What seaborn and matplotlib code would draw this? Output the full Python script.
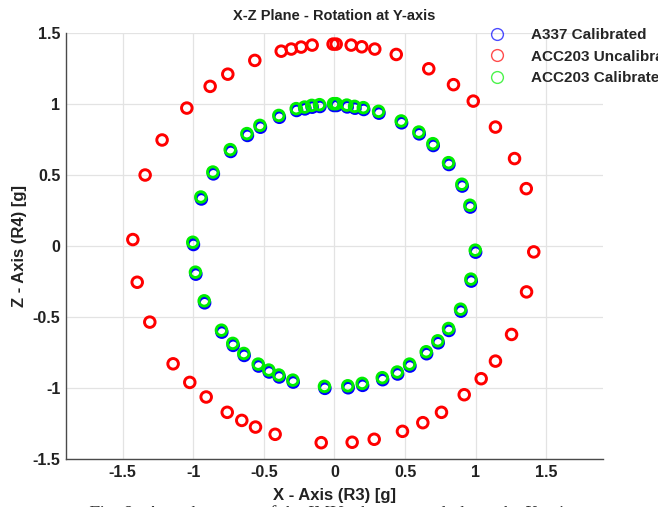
import matplotlib
matplotlib.use("Agg")
import matplotlib.pyplot as plt
from matplotlib.lines import Line2D
import seaborn as sns
import pandas as pd

# A337 reference sensor, calibrated output [g]
a337_x = [-0.998, -0.942, -0.857, -0.734, -0.616, -0.524, -0.390, -0.268, -0.209, -0.158, -0.103,
          -0.004, 0.015, 0.090, 0.145, 0.207, 0.315, 0.475, 0.600, 0.699, 0.810, 0.904, 0.961,
          0.999, 0.968, 0.895, 0.810, 0.734, 0.652, 0.534, 0.447, 0.341, 0.199, 0.097,
          -0.068, -0.292, -0.391, -0.462, -0.537, -0.639, -0.717, -0.797, -0.919, -0.981]
a337_z = [0.012, 0.333, 0.510, 0.668, 0.781, 0.839, 0.909, 0.957, 0.968, 0.980, 0.985,
          0.992, 0.992, 0.982, 0.973, 0.964, 0.938, 0.870, 0.792, 0.710, 0.576, 0.424, 0.276,
          -0.042, -0.246, -0.458, -0.594, -0.681, -0.758, -0.845, -0.901, -0.941, -0.981, -0.998,
          -1.002, -0.958, -0.922, -0.887, -0.845, -0.770, -0.699, -0.606, -0.399, -0.197]

# ACC203, raw (uncalibrated) output [g]
acc_raw_x = [-1.427, -1.340, -1.220, -1.045, -0.880, -0.755, -0.564, -0.377, -0.306, -0.236, -0.158,
             -0.010, 0.012, 0.118, 0.193, 0.285, 0.437, 0.667, 0.842, 0.982, 1.139, 1.274, 1.357,
             1.410, 1.359, 1.253, 1.139, 1.038, 0.918, 0.757, 0.625, 0.481, 0.281, 0.125,
             -0.094, -0.420, -0.559, -0.656, -0.759, -0.908, -1.024, -1.142, -1.307, -1.396]
acc_raw_z = [0.047, 0.502, 0.749, 0.974, 1.127, 1.213, 1.310, 1.375, 1.390, 1.404, 1.418,
             1.425, 1.425, 1.418, 1.406, 1.390, 1.352, 1.251, 1.139, 1.023, 0.840, 0.618, 0.406,
             -0.040, -0.322, -0.622, -0.810, -0.934, -1.047, -1.171, -1.244, -1.305, -1.361, -1.382,
             -1.385, -1.326, -1.275, -1.228, -1.171, -1.063, -0.960, -0.829, -0.535, -0.254]

# ACC203, calibrated output [g]
acc_cal_x = [-1.003, -0.946, -0.861, -0.738, -0.620, -0.528, -0.394, -0.271, -0.212, -0.161, -0.106,
             -0.007, 0.012, 0.087, 0.142, 0.204, 0.312, 0.472, 0.597, 0.696, 0.807, 0.901, 0.958,
             0.996, 0.965, 0.892, 0.807, 0.731, 0.649, 0.531, 0.444, 0.338, 0.196, 0.094,
             -0.071, -0.295, -0.394, -0.465, -0.540, -0.642, -0.720, -0.800, -0.922, -0.984]
acc_cal_z = [0.028, 0.347, 0.523, 0.681, 0.794, 0.852, 0.922, 0.970, 0.981, 0.993, 0.998,
             1.005, 1.005, 0.995, 0.986, 0.977, 0.951, 0.883, 0.805, 0.723, 0.589, 0.437, 0.289,
             -0.028, -0.232, -0.444, -0.580, -0.667, -0.744, -0.831, -0.887, -0.927, -0.967, -0.984,
             -0.988, -0.944, -0.908, -0.873, -0.831, -0.756, -0.685, -0.592, -0.385, -0.183]

series_names = ["A337 Calibrated", "ACC203 Uncalibrated", "ACC203 Calibrated"]
series_colors = ["#0000ff", "#ff0000", "#00ee00"]
ticks = [-1.5, -1, -0.5, 0, 0.5, 1, 1.5]
tick_labels = ["-1.5", "-1", "-0.5", "0", "0.5", "1", "1.5"]

sns.set_style("white")
plt.rcParams["font.family"] = ["Liberation Sans", "DejaVu Sans"]
plt.rcParams["font.weight"] = "bold"

fig = plt.figure(figsize=(6.58, 5.07), dpi=100)
ax = fig.add_axes([0.1003, 0.0947, 0.8161, 0.8393])

frames = [
    pd.DataFrame({"x": a337_x, "z": a337_z}),
    pd.DataFrame({"x": acc_raw_x, "z": acc_raw_z}),
    pd.DataFrame({"x": acc_cal_x, "z": acc_cal_z}),
]
for df, col in zip(frames, series_colors):
    sns.scatterplot(data=df, x="x", y="z", ax=ax, marker="o", s=58,
                    facecolors="none", edgecolor=col, linewidth=2.1, legend=False,
                    zorder=3, clip_on=False)

ax.set_xlim(-1.9, 1.9)
ax.set_ylim(-1.5, 1.5)
ax.set_xticks(ticks)
ax.set_xticklabels(tick_labels)
ax.set_yticks(ticks)
ax.set_yticklabels(tick_labels)
ax.grid(True, color="#e3e3e3", linewidth=0.9)
ax.set_axisbelow(True)
for side in ["top", "right"]:
    ax.spines[side].set_visible(False)
for side in ["left", "bottom"]:
    ax.spines[side].set_color("#4a4a4a")
    ax.spines[side].set_linewidth(1.0)
ax.tick_params(axis="both", direction="in", length=3, width=0.8, color="#4a4a4a",
               labelsize=11.5, labelcolor="#222222", pad=4)
for lab in ax.get_xticklabels() + ax.get_yticklabels():
    lab.set_fontweight("bold")

ax.set_title("X-Z Plane - Rotation at Y-axis", fontsize=10.5, fontweight="bold",
             color="#222222", pad=10)
ax.set_xlabel("X - Axis (R3) [g]", fontsize=12, fontweight="bold", color="#222222", labelpad=6)
ax.set_ylabel("Z - Axis (R4) [g]", fontsize=12, fontweight="bold", color="#222222", labelpad=4)

handles = [Line2D([], [], linestyle="none", marker="o", markersize=8.5,
                  markerfacecolor="none", markeredgecolor=c, markeredgewidth=1.0, alpha=0.7)
           for c in series_colors]
fig.legend(handles, series_names, loc="upper left", bbox_to_anchor=(0.723, 0.957),
           frameon=False, prop={"size": 11, "weight": "bold"}, handletextpad=1.2,
           labelspacing=0.5, borderaxespad=0)

fig.text(0.5, 0.004, "Fig. 8.  Actual outputs of the IMU when rotated about the Y-axis",
         ha="center", va="top", fontsize=13.5, style="italic",
         family=["Liberation Serif", "DejaVu Serif"], fontweight="normal", color="#333333")

fig.savefig("out.png", dpi=100)
